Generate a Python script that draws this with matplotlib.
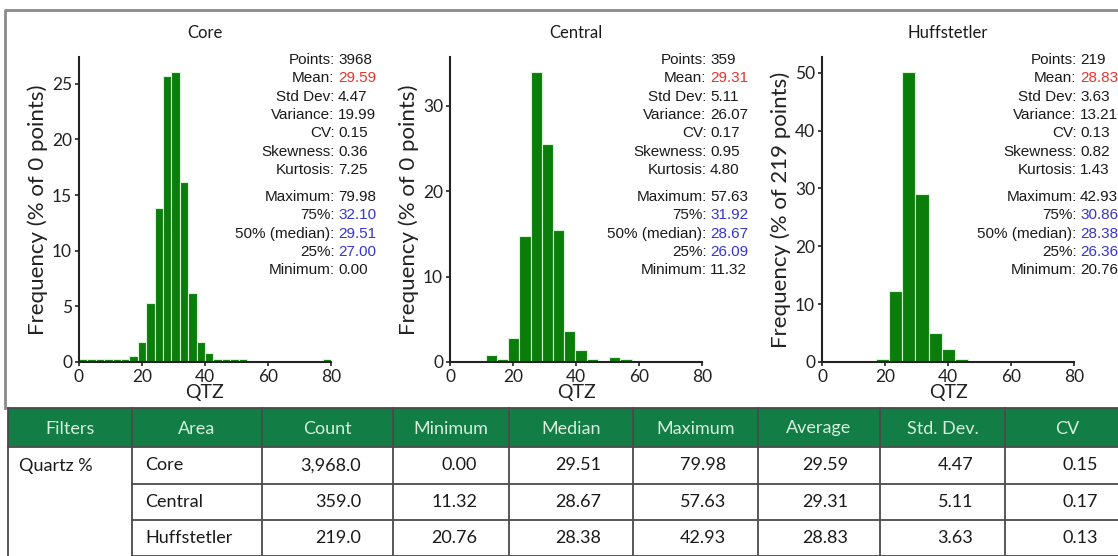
import numpy as np
import matplotlib.pyplot as plt
from matplotlib.patches import Rectangle
from matplotlib.ticker import MultipleLocator

# --- data ---
areas = ['Core', 'Central', 'Huffstetler']
pct_of = [0, 0, 219]  # what the y labels say

# histogram bins (% of points per bin)
core_edges = np.linspace(0, 80, 31)
core_freq = [0.3, 0.3, 0.3, 0.3, 0.3, 0.3, 0.5, 1.8, 5.3, 13.8, 25.7, 26.1, 16.2, 6.2, 1.8,
             0.8, 0.3, 0.3, 0.3, 0.3, 0, 0, 0, 0, 0, 0, 0, 0, 0, 0.3]
central_edges = np.linspace(11.32, 57.63, 14)
central_freq = [0.8, 0.4, 2.8, 14.7, 34.0, 25.5, 15.5, 3.6, 1.4, 0.4, 0.0, 0.6, 0.4]
huff_edges = np.linspace(17.2, 46.3, 8)
huff_freq = [0.5, 12.2, 50.2, 29.1, 5.0, 2.3, 0.5]

# summary stats
points = [3968, 359, 219]
means = [29.59, 29.31, 28.83]
stds = [4.47, 5.11, 3.63]
variances = [19.99, 26.07, 13.21]
cvs = [0.15, 0.17, 0.13]
skews = [0.36, 0.95, 0.82]
kurts = [7.25, 4.80, 1.43]
maxs = [79.98, 57.63, 42.93]
q75 = [32.10, 31.92, 30.86]
medians = [29.51, 28.67, 28.38]
q25 = [27.00, 26.09, 26.36]
mins = [0.00, 11.32, 20.76]

table_cols = ['Filters', 'Area', 'Count', 'Minimum', 'Median', 'Maximum', 'Average', 'Std. Dev.', 'CV']
filter_name = 'Quartz %'

# --- layout (pixels) ---
W, H = 1118, 556
fig = plt.figure(figsize=(W / 100, H / 100), dpi=100)

ax_left = [79, 450, 822]
ax_w = 252
ax_top, ax_bot = 57, 362
val_x = [338, 710, 1080]  # where stat values start
GREEN = '#0b7d0b'
RED = '#e8342c'
BLUE = '#3535d0'
TXT = '#1a1a1a'

hists = [(core_edges, core_freq), (central_edges, central_freq), (huff_edges, huff_freq)]

# overlay axes in pixel coords for text, border and table
ov = fig.add_axes([0, 0, 1, 1], zorder=5)
ov.set_xlim(0, W)
ov.set_ylim(H, 0)
ov.axis('off')

for i, (edges, freq) in enumerate(hists):
    ax = fig.add_axes([ax_left[i] / W, 1 - ax_bot / H, ax_w / W, (ax_bot - ax_top) / H])
    ax.patch.set_alpha(0)
    ax.bar(edges[:-1], freq, width=np.diff(edges), align='edge',
           color=GREEN, edgecolor='#d8f3d8', linewidth=0.8)
    ax.set_xlim(0, 80)
    ax.set_ylim(0, max(freq) * 1.05)
    ax.xaxis.set_major_locator(MultipleLocator(20))
    ax.yaxis.set_major_locator(MultipleLocator(5 if i == 0 else 10))
    for s in ['top', 'right']:
        ax.spines[s].set_visible(False)
    for s in ['left', 'bottom']:
        ax.spines[s].set_color('#222222')
        ax.spines[s].set_linewidth(1.5)
    ax.tick_params(length=3, width=1.2, color='#222222', labelsize=12.5, pad=2,
                   labelcolor='#222222')
    for lab in ax.get_xticklabels() + ax.get_yticklabels():
        lab.set_family('Lato')
    ax.set_xlabel('QTZ', family='Lato', fontsize=14, labelpad=-1, color='#222222')
    ax.set_ylabel('Frequency (% of {} points)'.format(pct_of[i]), family='Lato',
                  fontsize=16, labelpad=3, color='#222222')

    # title
    ov.text(ax_left[i] + ax_w / 2, 33, areas[i], ha='center', va='center',
            family='Lato', fontsize=12, color=TXT)

    # stats block: labels right-aligned, values left-aligned
    rows = [('Points:', '%d' % points[i], TXT, 60),
            ('Mean:', '%.2f' % means[i], RED, 78.3),
            ('Std Dev:', '%.2f' % stds[i], TXT, 96.6),
            ('Variance:', '%.2f' % variances[i], TXT, 114.9),
            ('CV:', '%.2f' % cvs[i], TXT, 133.2),
            ('Skewness:', '%.2f' % skews[i], TXT, 151.5),
            ('Kurtosis:', '%.2f' % kurts[i], TXT, 169.8),
            ('Maximum:', '%.2f' % maxs[i], TXT, 197),
            ('75%:', '%.2f' % q75[i], BLUE, 215.3),
            ('50% (median):', '%.2f' % medians[i], BLUE, 233.6),
            ('25%:', '%.2f' % q25[i], BLUE, 251.9),
            ('Minimum:', '%.2f' % mins[i], TXT, 270.2)]
    for lab, val, col, y in rows:
        ov.text(val_x[i] - 3.5, y, lab, ha='right', va='center', family='Liberation Sans',
                fontsize=11, color=TXT)
        ov.text(val_x[i], y, val, ha='left', va='center', family='Liberation Sans',
                fontsize=11, color=col)

# grey frame around the charts
ov.plot([5, 5, W + 5], [408, 10, 10], color='#8a8a8a', lw=2, clip_on=False)

# --- table ---
col_x = [8, 132, 262, 393, 509, 633, 758, 880, 1005, 1130]
hdr_top, hdr_bot = 408, 447
row_lines = [447, 484, 520, 556]
ov.add_patch(Rectangle((col_x[0], hdr_top), col_x[-1] - col_x[0], hdr_bot - hdr_top,
                       facecolor='#127e45', edgecolor='none'))
for j, name in enumerate(table_cols):
    ov.text((col_x[j] + col_x[j + 1]) / 2, (hdr_top + hdr_bot) / 2 + 1, name,
            ha='center', va='center', family='Lato', fontsize=13, color='#d6eedc')

LINE = '#4a4a4a'
for x in col_x:
    ov.plot([x, x], [hdr_top, H], color=LINE, lw=1.3)
ov.plot([col_x[0], col_x[-1]], [hdr_top, hdr_top], color=LINE, lw=1.3)
ov.plot([col_x[0], col_x[-1]], [hdr_bot, hdr_bot], color=LINE, lw=1.3)
for y in row_lines[1:]:
    ov.plot([col_x[1], col_x[-1]], [y, y], color=LINE, lw=1.3)

ov.text(col_x[0] + 11, (row_lines[0] + row_lines[1]) / 2, filter_name, ha='left',
        va='center', family='Lato', fontsize=13, color=TXT)
for r in range(3):
    yc = (row_lines[r] + row_lines[r + 1]) / 2
    ov.text(col_x[1] + 13, yc, areas[r], ha='left', va='center', family='Lato',
            fontsize=13, color=TXT)
    vals = ['{:,.1f}'.format(points[r]), '%.2f' % mins[r], '%.2f' % medians[r],
            '%.2f' % maxs[r], '%.2f' % means[r], '%.2f' % stds[r], '%.2f' % cvs[r]]
    for k, v in enumerate(vals):
        ov.text(col_x[k + 3] - 32, yc, v, ha='right', va='center', family='Lato',
                fontsize=13, color=TXT)

fig.savefig('out.png', dpi=100)
